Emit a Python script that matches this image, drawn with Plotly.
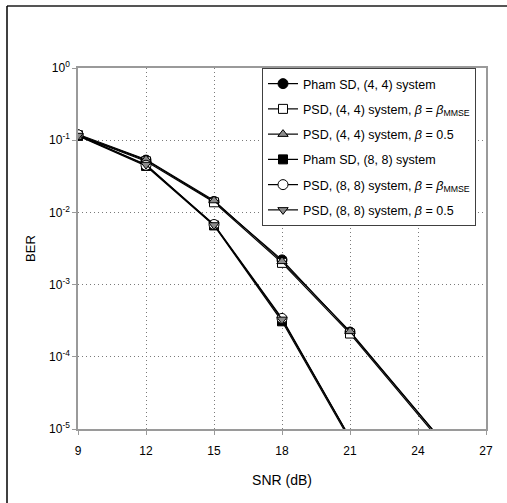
import plotly.graph_objects as go

snr_44 = [9, 12, 15, 18, 21, 27]
snr_88 = [9, 12, 15, 18, 21]

pham_44 = [0.118, 0.053, 0.0142, 0.0022, 2.2e-4, 1.3e-6]
psd_mmse_44 = [0.117, 0.051, 0.0138, 0.0020, 2.1e-4, 1.2e-6]
psd_05_44 = [0.121, 0.054, 0.0146, 0.0021, 2.25e-4, 1.3e-6]

pham_88 = [0.115, 0.044, 0.0066, 3.1e-4, 7e-6]
psd_mmse_88 = [0.119, 0.045, 0.0068, 3.4e-4, 7.5e-6]
psd_05_88 = [0.116, 0.046, 0.0067, 3.3e-4, 7.5e-6]

names = [
    "Pham SD, (4, 4) system",
    "PSD, (4, 4) system, <i>β</i> = <i>β</i><sub>MMSE</sub>",
    "PSD, (4, 4) system, <i>β</i> = 0.5",
    "Pham SD, (8, 8) system",
    "PSD, (8, 8) system, <i>β</i> = <i>β</i><sub>MMSE</sub>",
    "PSD, (8, 8) system, <i>β</i> = 0.5",
]

x_ticks = [9, 12, 15, 18, 21, 24, 27]
y_tickvals = [1, 1e-1, 1e-2, 1e-3, 1e-4, 1e-5]
y_ticktext = ["10<sup>0</sup>", "10<sup>-1</sup>", "10<sup>-2</sup>",
              "10<sup>-3</sup>", "10<sup>-4</sup>", "10<sup>-5</sup>"]

series = [
    (snr_44, pham_44, "circle", "black", 10),
    (snr_44, psd_mmse_44, "square", "white", 9),
    (snr_44, psd_05_44, "triangle-up", "#8c8c8c", 9),
    (snr_88, pham_88, "square", "black", 9),
    (snr_88, psd_mmse_88, "circle", "white", 10),
    (snr_88, psd_05_88, "triangle-down", "#8c8c8c", 9),
]

FONT = "Liberation Sans, Arial"

fig = go.Figure()
for i, ((xs, ys, sym, fill, sz), nm) in enumerate(zip(series, names)):
    fig.add_trace(go.Scatter(
        x=xs, y=ys, name=nm, mode="lines+markers", legendgroup=f"g{i}",
        line=dict(color="black", width=1.2),
        marker=dict(symbol=sym, color=fill, size=sz,
                    line=dict(color="black", width=1)),
    ))

W, H = 507, 503
L, R, T, B = 78, 21, 68, 74
pw, ph = W - L - R, H - T - B

def px(xp):
    return (xp - L) / pw

def py(yp):
    return (H - B - yp) / ph

fig.add_shape(type="line", xref="paper", yref="paper",
              x0=px(7), x1=px(507), y0=py(6), y1=py(6),
              line=dict(color="#555555", width=2))
fig.add_shape(type="line", xref="paper", yref="paper",
              x0=px(7), x1=px(7), y0=py(6), y1=py(503),
              line=dict(color="black", width=1.5))

axis_common = dict(
    showline=True, linecolor="#9a9a9a", linewidth=1.5, mirror=True,
    showgrid=True, gridcolor="#7a7a7a", griddash="1px,3px", gridwidth=1,
    ticks="outside", ticklen=4, tickcolor="#9a9a9a",
    tickfont=dict(family=FONT, size=12, color="black"),
    zeroline=False,
)

fig.update_xaxes(
    range=[9, 27], tickvals=x_ticks, ticktext=[str(v) for v in x_ticks],
    ticklabelstandoff=6,
    title=dict(text="SNR (dB)", font=dict(family=FONT, size=14, color="black"),
               standoff=18),
    **axis_common,
)
fig.update_yaxes(
    type="log", range=[-5, 0], tickvals=y_tickvals, ticktext=y_ticktext,
    title=dict(text="BER", font=dict(family=FONT, size=13, color="black"),
               standoff=10),
    **axis_common,
)

fig.update_layout(
    width=W, height=H,
    margin=dict(l=L, r=R, t=T, b=B),
    paper_bgcolor="white", plot_bgcolor="white",
    font=dict(family=FONT, size=12, color="black"),
    legend=dict(
        x=px(262), y=1, xanchor="left", yanchor="top",
        bgcolor="white", bordercolor="#404040", borderwidth=1,
        font=dict(family=FONT, size=12.5, color="black"),
        itemwidth=30, tracegroupgap=6,
    ),
    showlegend=True,
)

fig.write_html("out.html", config={"displayModeBar": False},
               post_script="document.body.style.margin='0';document.body.style.overflow='hidden';")
